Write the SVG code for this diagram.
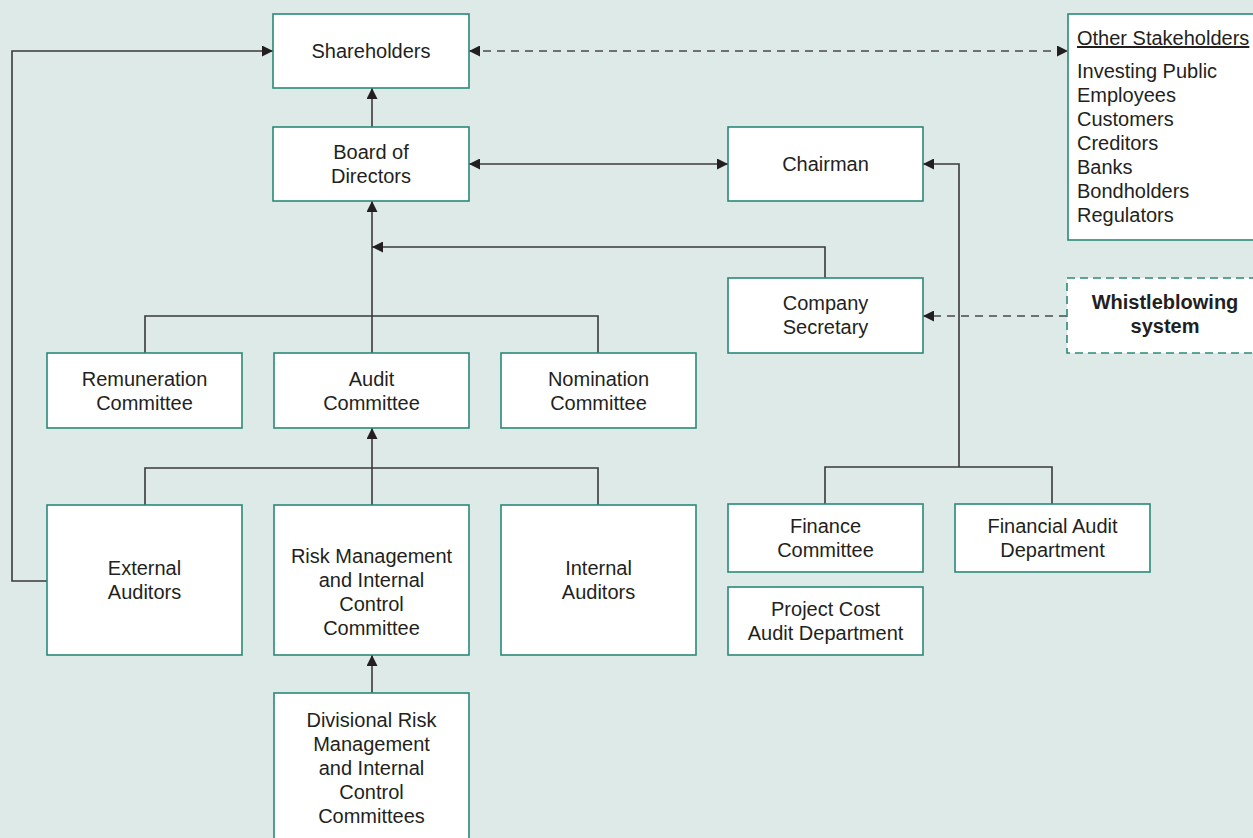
<svg xmlns="http://www.w3.org/2000/svg" width="1253" height="838" viewBox="0 0 1253 838">
<defs>
<style>
.box{fill:#ffffff;stroke:#2a8a78;stroke-width:1.6}
.dbox{fill:#ffffff;stroke:#2a8a78;stroke-width:1.6;stroke-dasharray:8 5}
.t{font-family:"Liberation Sans",Arial,sans-serif;font-size:20px;fill:#231f20;text-anchor:middle}
.l{font-family:"Liberation Sans",Arial,sans-serif;font-size:20px;fill:#231f20}
.b{font-family:"Liberation Sans",Arial,sans-serif;font-size:20px;font-weight:bold;fill:#231f20;text-anchor:middle}
.c{fill:none;stroke:#3a3a3a;stroke-width:1.6}
.d{fill:none;stroke:#4a4a4a;stroke-width:1.6;stroke-dasharray:8 6}
</style>
<marker id="ah" viewBox="0 0 10 10" refX="10" refY="5" markerWidth="11" markerHeight="11" markerUnits="userSpaceOnUse" orient="auto-start-reverse">
<path d="M0,0 L10,5 L0,10 Z" fill="#231f20"/>
</marker>
</defs>
<rect x="0" y="0" width="1253" height="838" fill="#deeae7"/>

<g id="connectors">
<path class="c" d="M47,581 H12 V51 H273" marker-end="url(#ah)"/>
<path class="d" d="M469,51 H1068" marker-start="url(#ah)" marker-end="url(#ah)"/>
<path class="c" d="M372,127 V88" marker-end="url(#ah)"/>
<path class="c" d="M469,164 H728" marker-start="url(#ah)" marker-end="url(#ah)"/>
<path class="c" d="M372,353 V201" marker-end="url(#ah)"/>
<path class="c" d="M825,278 V247 H372" marker-end="url(#ah)"/>
<path class="c" d="M145,353 V316 H598 V353"/>
<path class="c" d="M145,505 V468 H598 V505"/>
<path class="c" d="M372,505 V428" marker-end="url(#ah)"/>
<path class="c" d="M372,693 V655" marker-end="url(#ah)"/>
<path class="c" d="M825,504 V467 H1052 V504"/>
<path class="c" d="M959,467 V164 H923" marker-end="url(#ah)"/>
<path class="d" d="M1067,316 H923" marker-end="url(#ah)"/>
</g>

<g id="shareholders">
<rect class="box" x="273" y="14" width="196" height="74"/>
<text class="t" x="371" y="58">Shareholders</text>
</g>
<g id="other-stakeholders">
<rect class="box" x="1068" y="14" width="200" height="226"/>
<text class="l" x="1077" y="45" text-decoration="underline">Other Stakeholders</text>
<text class="l" x="1077" y="78">Investing Public</text>
<text class="l" x="1077" y="102">Employees</text>
<text class="l" x="1077" y="126">Customers</text>
<text class="l" x="1077" y="150">Creditors</text>
<text class="l" x="1077" y="174">Banks</text>
<text class="l" x="1077" y="198">Bondholders</text>
<text class="l" x="1077" y="222">Regulators</text>
</g>
<g id="board">
<rect class="box" x="273" y="127" width="196" height="74"/>
<text class="t" x="371" y="159">Board of</text>
<text class="t" x="371" y="183">Directors</text>
</g>
<g id="chairman">
<rect class="box" x="728" y="127" width="195" height="74"/>
<text class="t" x="825.5" y="171">Chairman</text>
</g>
<g id="company-secretary">
<rect class="box" x="728" y="278" width="195" height="75"/>
<text class="t" x="825.5" y="310">Company</text>
<text class="t" x="825.5" y="334">Secretary</text>
</g>
<g id="whistleblowing">
<rect class="dbox" x="1067" y="278" width="198" height="75"/>
<text class="b" x="1165" y="309">Whistleblowing</text>
<text class="b" x="1165" y="333">system</text>
</g>
<g id="remuneration">
<rect class="box" x="47" y="353" width="195" height="75"/>
<text class="t" x="144.5" y="386">Remuneration</text>
<text class="t" x="144.5" y="410">Committee</text>
</g>
<g id="audit">
<rect class="box" x="274" y="353" width="195" height="75"/>
<text class="t" x="371.5" y="386">Audit</text>
<text class="t" x="371.5" y="410">Committee</text>
</g>
<g id="nomination">
<rect class="box" x="501" y="353" width="195" height="75"/>
<text class="t" x="598.5" y="386">Nomination</text>
<text class="t" x="598.5" y="410">Committee</text>
</g>
<g id="external-auditors">
<rect class="box" x="47" y="505" width="195" height="150"/>
<text class="t" x="144.5" y="575">External</text>
<text class="t" x="144.5" y="599">Auditors</text>
</g>
<g id="risk-management">
<rect class="box" x="274" y="505" width="195" height="150"/>
<text class="t" x="371.5" y="563">Risk Management</text>
<text class="t" x="371.5" y="587">and Internal</text>
<text class="t" x="371.5" y="611">Control</text>
<text class="t" x="371.5" y="635">Committee</text>
</g>
<g id="internal-auditors">
<rect class="box" x="501" y="505" width="195" height="150"/>
<text class="t" x="598.5" y="575">Internal</text>
<text class="t" x="598.5" y="599">Auditors</text>
</g>
<g id="divisional">
<rect class="box" x="274" y="693" width="195" height="160"/>
<text class="t" x="371.5" y="727">Divisional Risk</text>
<text class="t" x="371.5" y="751">Management</text>
<text class="t" x="371.5" y="775">and Internal</text>
<text class="t" x="371.5" y="799">Control</text>
<text class="t" x="371.5" y="823">Committees</text>
</g>
<g id="finance-committee">
<rect class="box" x="728" y="504" width="195" height="68"/>
<text class="t" x="825.5" y="533">Finance</text>
<text class="t" x="825.5" y="557">Committee</text>
</g>
<g id="financial-audit">
<rect class="box" x="955" y="504" width="195" height="68"/>
<text class="t" x="1052.5" y="533">Financial Audit</text>
<text class="t" x="1052.5" y="557">Department</text>
</g>
<g id="project-cost">
<rect class="box" x="728" y="587" width="195" height="68"/>
<text class="t" x="825.5" y="616">Project Cost</text>
<text class="t" x="825.5" y="640">Audit Department</text>
</g>
</svg>
